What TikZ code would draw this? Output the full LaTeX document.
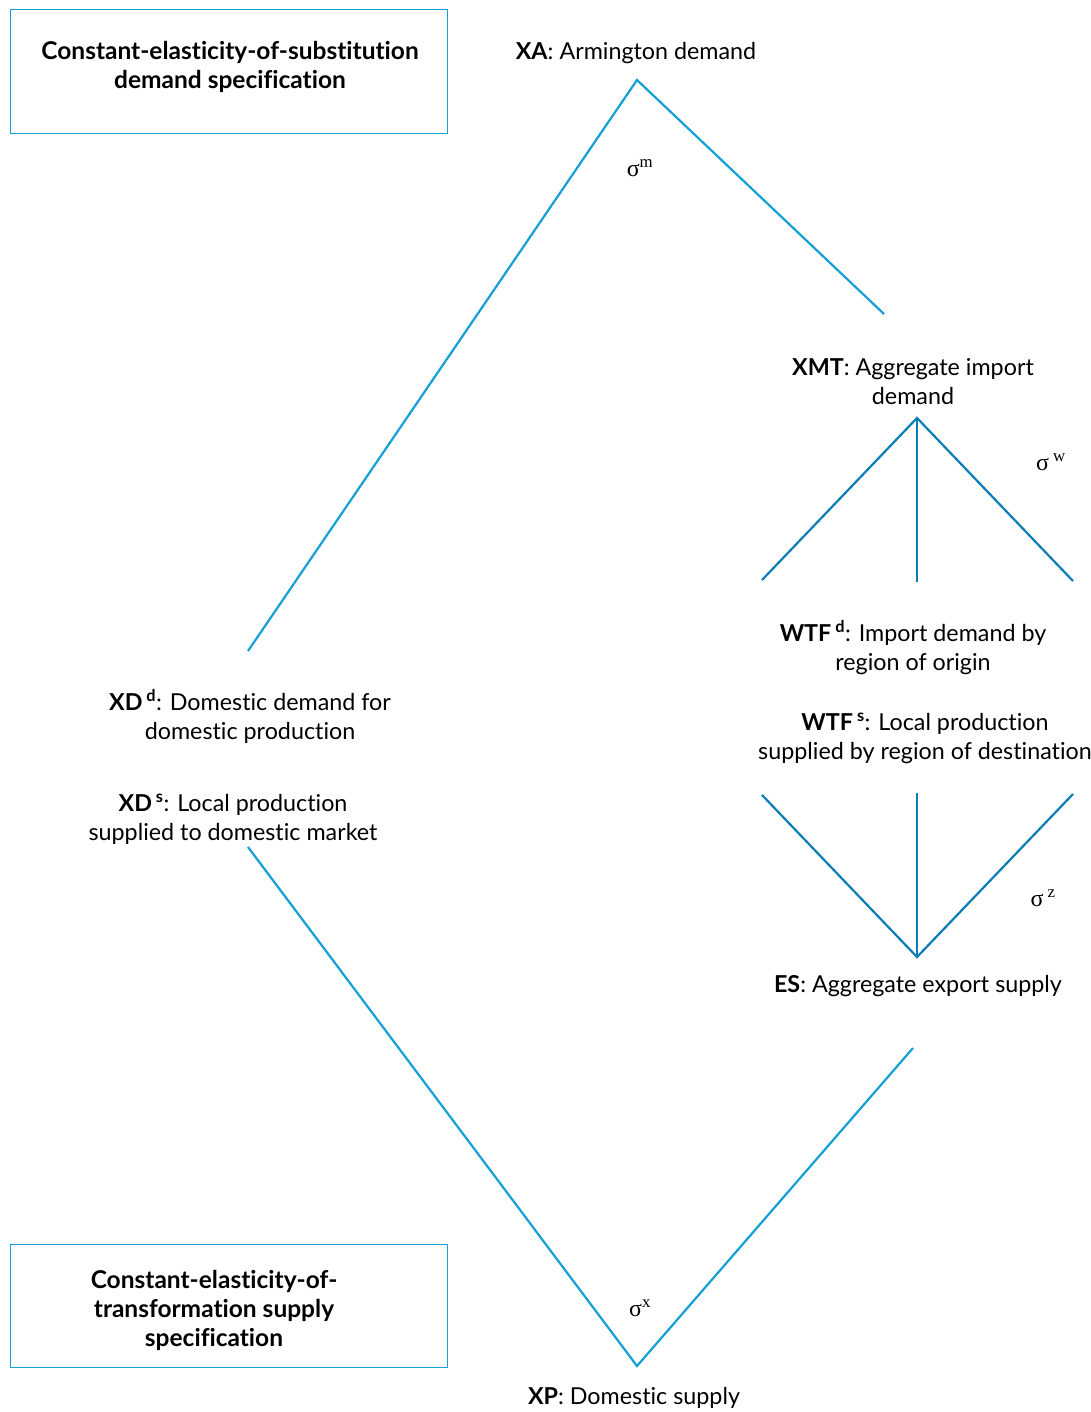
\documentclass[tikz,border=0pt]{standalone}
\usepackage{fontspec}
\setmainfont{Lato}[Ligatures=NoCommon]
\newfontfamily\sigfont{Liberation Serif}
\definecolor{lineblue}{RGB}{20,160,215}
\definecolor{fanblue}{RGB}{10,125,185}
\begin{document}
\begin{tikzpicture}[x=1pt,y=-1pt,
  lbl/.style={align=center,inner sep=0pt,font=\fontsize{23.3}{29}\selectfont},
  boxlbl/.style={align=center,inner sep=0pt,font=\fontsize{24.5}{29}\selectfont\bfseries},
  frame/.style={draw=lineblue,line width=1pt},
  outer/.style={draw=lineblue,line width=2.2pt},
  fan/.style={draw=fanblue,line width=2.2pt},
  sig/.style={inner sep=0pt,font=\sigfont\fontsize{24}{26}\selectfont}]
\useasboundingbox (0,0) rectangle (1090,1412);
% boxes
\node[frame,minimum width=437pt,minimum height=124pt,anchor=north west] (boxA) at (10,9) {};
\node[boxlbl] (boxAt) at (230,67) {Constant-elasticity-of-substitution\\demand specification};
\node[frame,minimum width=437pt,minimum height=123pt,anchor=north west] (boxB) at (10,1244) {};
\node[boxlbl] (boxBt) at (214,1310) {Constant-elasticity-of-\\transformation supply\\specification};
% labels
\node[lbl] (XA) at (636,53) {\textbf{XA}: Armington demand};
\node[lbl] (XMT) at (913,382) {\textbf{XMT}: Aggregate import\\demand};
\node[lbl] (WTFd) at (913,648) {\textbf{WTF}\,\textsuperscript{\textbf{d}}: Import demand by\\region of origin};
\node[lbl] (WTFs) at (925,738) {\textbf{WTF}\,\textsuperscript{\textbf{s}}: Local production\\supplied by region of destination};
\node[lbl] (XDd) at (250,716) {\textbf{XD}\,\textsuperscript{\textbf{d}}: Domestic demand for\\domestic production};
\node[lbl] (XDs) at (233,819) {\textbf{XD}\,\textsuperscript{\textbf{s}}: Local production\\supplied to domestic market};
\node[lbl] (ES) at (918,986) {\textbf{ES}: Aggregate export supply};
\node[lbl] (XP) at (634,1398) {\textbf{XP}: Domestic supply};
% sigmas
\node[sig] (sm) at (640,168) {σ\textsuperscript{m}};
\node[sig] (sw) at (1051,462) {σ\,\textsuperscript{w}};
\node[sig] (sz) at (1043,898) {σ\,\textsuperscript{z}};
\node[sig] (sx) at (640,1308) {σ\textsuperscript{x}};
% coordinates
\coordinate (top) at (637,80);
\coordinate (topL) at (248,651);
\coordinate (topR) at (884,314);
\coordinate (fa) at (917,418);
\coordinate (fa1) at (762,580);
\coordinate (fa2) at (917,582);
\coordinate (fa3) at (1073,581);
\coordinate (fb) at (917,957);
\coordinate (fb1) at (762,795);
\coordinate (fb2) at (917,793);
\coordinate (fb3) at (1073,794);
\coordinate (bot) at (637,1366);
\coordinate (botL) at (248,847);
\coordinate (botR) at (913,1048);
% lines
\draw[outer] (topL) -- (top) -- (topR);
\draw[outer] (botL) -- (bot) -- (botR);
\draw[fan] (fa1) -- (fa) -- (fa3);
\draw[fan] (fa) -- (fa2);
\draw[fan] (fb1) -- (fb) -- (fb3);
\draw[fan] (fb) -- (fb2);
\end{tikzpicture}
\end{document}
